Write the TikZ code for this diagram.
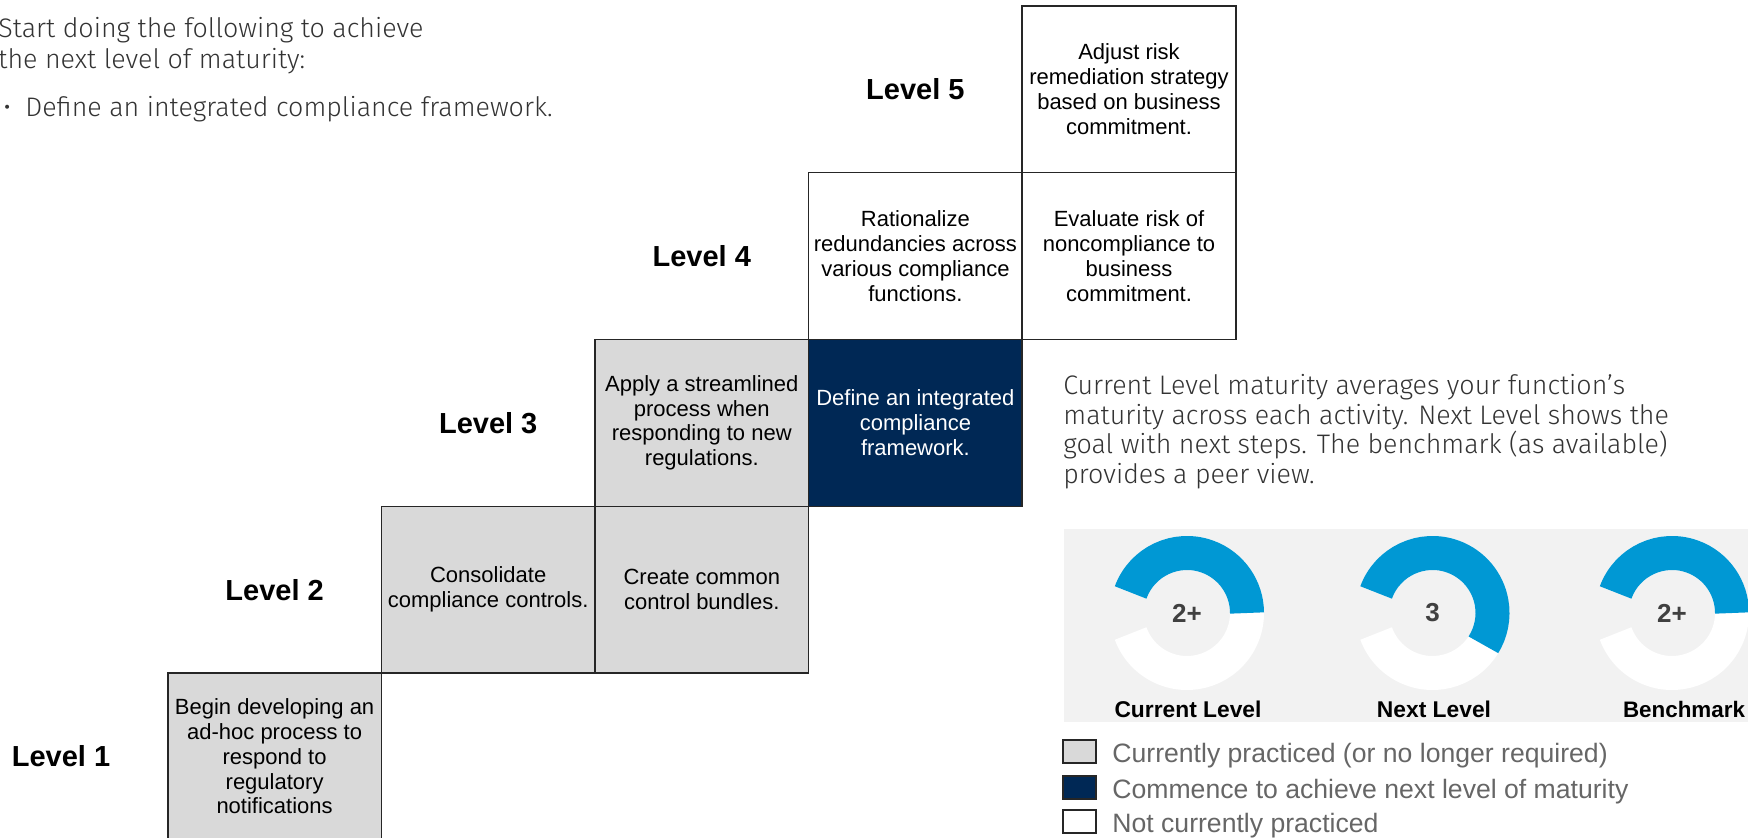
\documentclass[tikz,border=0pt]{standalone}
\usepackage{fontspec}
\setmainfont{Liberation Sans}
\newfontfamily\lightfont{Fira Sans Light}

\begin{document}
\begin{tikzpicture}[x=0.5pt,y=-0.5pt,
    cell/.style={draw=black!85,line width=0.75pt,minimum width=106.8pt,minimum height=83.4pt,
      align=center,inner sep=1pt,font=\fontsize{11}{12.4}\selectfont},
    done/.style={cell,fill=greya},
    next/.style={cell,fill=navya,text=white},
    todo/.style={cell,fill=white},
    lvl/.style={font=\fontsize{14.5}{17}\selectfont\bfseries},
    light/.style={inner sep=0pt,text=texta,font=\lightfont\fontsize{13.4}{15.5}\selectfont},
    key/.style={draw=black!85,line width=0.75pt}]
    \definecolor{greya}{HTML}{D9D9D9}
    \definecolor{navya}{HTML}{002855}
    \definecolor{bluea}{HTML}{0098D4}
    \definecolor{panela}{HTML}{F2F2F2}
    \definecolor{texta}{HTML}{333333}
    \def\cw{213.6}\def\ch{166.8}
    \useasboundingbox (0,0) rectangle (1748,838);

    % text on the left
    \node[light,anchor=north west,align=left] (intro) at (-2,17)
      {Start doing the following to achieve\\the next level of maturity:};
    \node[light,anchor=base west] (dot) at (3,117) {•};
    \node[light,anchor=base west] (goal) at (25,117) {Define an integrated compliance framework.};

    % level labels
    \foreach \n in {1,...,5}
      \node[lvl] (l\n) at ({61+(\n-1)*\cw},{756.5-(\n-1)*\ch}) {Level \n};

    % steps
    \node[done] (b11) at (274.6,756.5) {Begin developing an\\ad-hoc process to\\respond to\\regulatory\\notifications};
    \node[done] (b22) at (488.2,589.7) {Consolidate\\compliance controls.};
    \node[done] (b23) at (701.8,589.7) {Create common\\control bundles.};
    \node[done] (b33) at (701.8,422.9) {Apply a streamlined\\process when\\responding to new\\regulations.};
    \node[next] (b34) at (915.4,422.9) {Define an integrated\\compliance\\framework.};
    \node[todo] (b44) at (915.4,256.1) {Rationalize\\redundancies across\\various compliance\\functions.};
    \node[todo] (b45) at (1129,256.1) {Evaluate risk of\\noncompliance to\\business\\commitment.};
    \node[todo] (b55) at (1129,89.3) {Adjust risk\\remediation strategy\\based on business\\commitment.};

    % note on the right
    \node[light,anchor=north west,align=left,font=\lightfont\fontsize{13.4}{14.75}\selectfont] (note) at (1063,374)
      {Current Level maturity averages your function’s\\maturity across each activity. Next Level shows the\\goal with next steps. The benchmark (as available)\\provides a peer view.};

    % gauges
    \fill[panela] (1064,529) rectangle (1748,722);
    \foreach \x/\f/\v/\t/\nm in {1187/0.5/2+/Current Level/cur,1432.5/0.6/3/Next Level/nxt,1672/0.5/2+/Benchmark/ben} {
      \draw[white,line width=17pt] (\x,613) ++(-160:60) arc[start angle=-160,end angle=160,radius=60];
      \draw[bluea,line width=17pt] (\x,613) ++(-160:60) arc[start angle=-160,end angle={320*\f-160},radius=60];
      \node[text=black!75,font=\fontsize{13}{15}\selectfont\bfseries] (\nm) at (\x,613) {\v};
    }
    \node[font=\fontsize{11.4}{13}\selectfont\bfseries] (labcur) at (1188,709) {Current Level};
    \node[font=\fontsize{11.4}{13}\selectfont\bfseries] (labnxt) at (1434,709) {Next Level};
    \node[font=\fontsize{11.2}{13}\selectfont\bfseries] (labben) at (1684,709) {Benchmark};

    % key
    \foreach \y/\c/\t/\k in {740/greya/Currently practiced (or no longer required)/1,
        776/navya/Commence to achieve next level of maturity/2,810/white/Not currently practiced/3} {
      \draw[key,fill=\c] (1063,\y) rectangle (1096,\y+23);
      \node[anchor=base west,inner sep=0pt,text=black!60,font=\fontsize{13.3}{14}\selectfont] (k\k) at (1112,\y+22) {\t};
    }
\end{tikzpicture}
\end{document}
